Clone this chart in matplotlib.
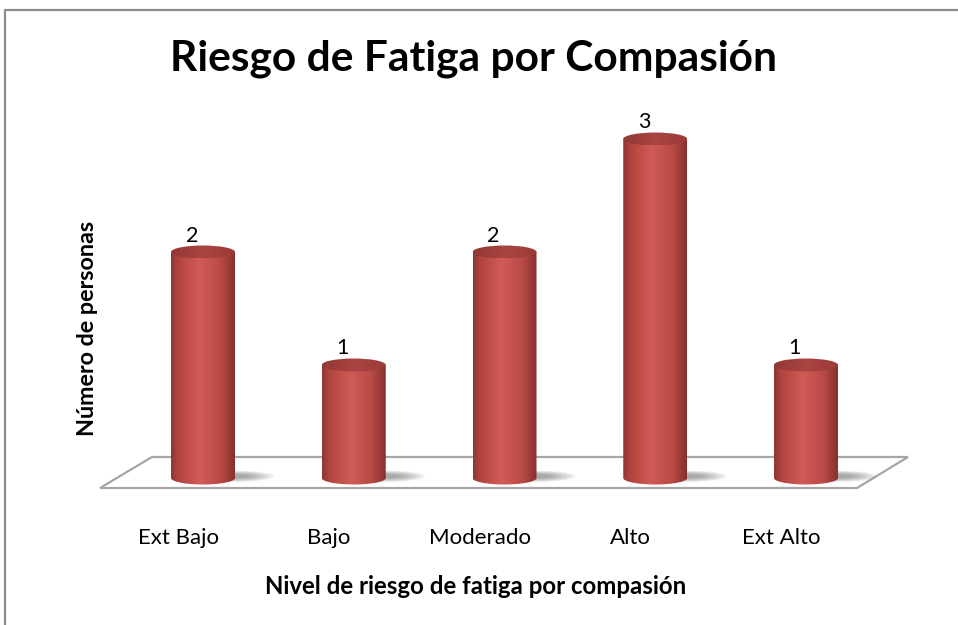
import numpy as np
import matplotlib
matplotlib.use("Agg")
import matplotlib.pyplot as plt
from matplotlib.patches import Polygon, Ellipse, Rectangle, PathPatch
from matplotlib.path import Path
from matplotlib.colors import LinearSegmentedColormap
from matplotlib.transforms import ScaledTranslation

# ---- data ----
categories = ["Ext Bajo", "Bajo", "Moderado", "Alto", "Ext Alto"]
values = [2, 1, 2, 3, 1]
title = "Riesgo de Fatiga por Compasión"
xlabel = "Nivel de riesgo de fatiga por compasión"
ylabel = "Número de personas"

FONT = "Lato"
W, H = 958, 625
fig = plt.figure(figsize=(W / 100, H / 100), dpi=100)
fig.patch.set_facecolor("white")

# axes placement (pixels)
ax_l, ax_r, ax_t, ax_b = 100, 908, 110, 495
ax = fig.add_axes([ax_l / W, 1 - ax_b / H, (ax_r - ax_l) / W, (ax_b - ax_t) / H])
px_per_x = 150.75
px_per_y = 113.0
x0_px, y0_px = 203.0, 478.0
ax.set_xlim((ax_l - x0_px) / px_per_x, (ax_r - x0_px) / px_per_x)
ax.set_ylim(-(ax_b - y0_px) / px_per_y, (y0_px - ax_t) / px_per_y)
for s in ax.spines.values():
    s.set_visible(False)
ax.set_yticks([])
ax.set_facecolor("none")

# floor
fy_top = (y0_px - 457) / px_per_y
fy_bot = (y0_px - 488) / px_per_y
def xd(px):
    return (px - x0_px) / px_per_x
floor = Polygon([(xd(100), fy_bot), (xd(152), fy_top), (xd(908), fy_top), (xd(857), fy_bot)],
                closed=True, facecolor="white", edgecolor="#a6a6a6", lw=1.6, zorder=1, clip_on=False)
ax.add_patch(floor)

bw = 64 / px_per_x
eh = 13 / px_per_y

body_cmap = LinearSegmentedColormap.from_list(
    "body", [(0.0, "#903633"), (0.12, "#b3443f"), (0.45, "#d15b57"), (0.78, "#b84a46"), (1.0, "#86302d")])
top_cmap = LinearSegmentedColormap.from_list(
    "top", [(0.0, "#923835"), (0.5, "#a94441"), (1.0, "#9c3b38")])
grad = np.linspace(0, 1, 256).reshape(1, -1)

xs = np.arange(len(categories))
for x, v in zip(xs, values):
    # shadow
    for k in range(7):
        sh = Ellipse((x + 0.21, 0.015), 0.52 - k * 0.055, 0.10 - k * 0.011,
                     facecolor="#505050", alpha=0.09, edgecolor="none", zorder=2)
        ax.add_patch(sh)
    # body path
    t = np.linspace(np.pi, 2 * np.pi, 40)
    bx = x + bw / 2 * np.cos(t)
    by = 0 + eh / 2 * np.sin(t)
    verts = [(x - bw / 2, v)] + list(zip(bx, by)) + [(x + bw / 2, v), (x - bw / 2, v)]
    body = Path(verts)
    bp = PathPatch(body, facecolor="none", edgecolor="none", zorder=3)
    ax.add_patch(bp)
    im = ax.imshow(grad, cmap=body_cmap, extent=(x - bw / 2, x + bw / 2, -eh, v),
                   aspect="auto", interpolation="bicubic", zorder=3)
    im.set_clip_path(bp)
    # top ellipse
    top = Ellipse((x, v), bw, eh, facecolor="none", edgecolor="none", zorder=4)
    ax.add_patch(top)
    im2 = ax.imshow(grad, cmap=top_cmap, extent=(x - bw / 2, x + bw / 2, v - eh / 2, v + eh / 2),
                    aspect="auto", interpolation="bicubic", zorder=4)
    im2.set_clip_path(top)
    # value label
    ax.annotate(str(v), (x, v + eh / 2), xytext=(-8, 0), textcoords="offset points",
                ha="center", va="bottom", fontsize=15.5, family=FONT, color="black", zorder=5)

ax.set_xticks(xs, categories)
ax.tick_params(axis="x", length=0, pad=24, labelsize=16)
shift = ScaledTranslation(-0.25, 0, fig.dpi_scale_trans)
for lab in ax.get_xticklabels():
    lab.set_family(FONT)
    lab.set_transform(lab.get_transform() + shift)

ax.set_xlabel(xlabel, fontsize=17.3, fontweight="bold", family=FONT)
ax.xaxis.set_label_coords((476 - ax_l) / (ax_r - ax_l), -(586 - ax_b) / (ax_b - ax_t))
ax.xaxis.label.set_va("center")
ax.set_ylabel(ylabel, fontsize=16.8, fontweight="bold", family=FONT)
ax.yaxis.set_label_coords((88 - ax_l) / (ax_r - ax_l), (ax_b - 328) / (ax_b - ax_t))
ax.yaxis.label.set_va("center")

fig.text(474 / W, 1 - 71 / H, title, ha="center", va="baseline", fontsize=30.6,
         fontweight="bold", family=FONT)

# chart border
fig.patches.append(Rectangle((4.5 / W, -0.1), 2, 1.1 - 10.5 / H, transform=fig.transFigure,
                             facecolor="none", edgecolor="#8c8c8c", lw=1.6, figure=fig))

fig.savefig("out.png", dpi=100)
